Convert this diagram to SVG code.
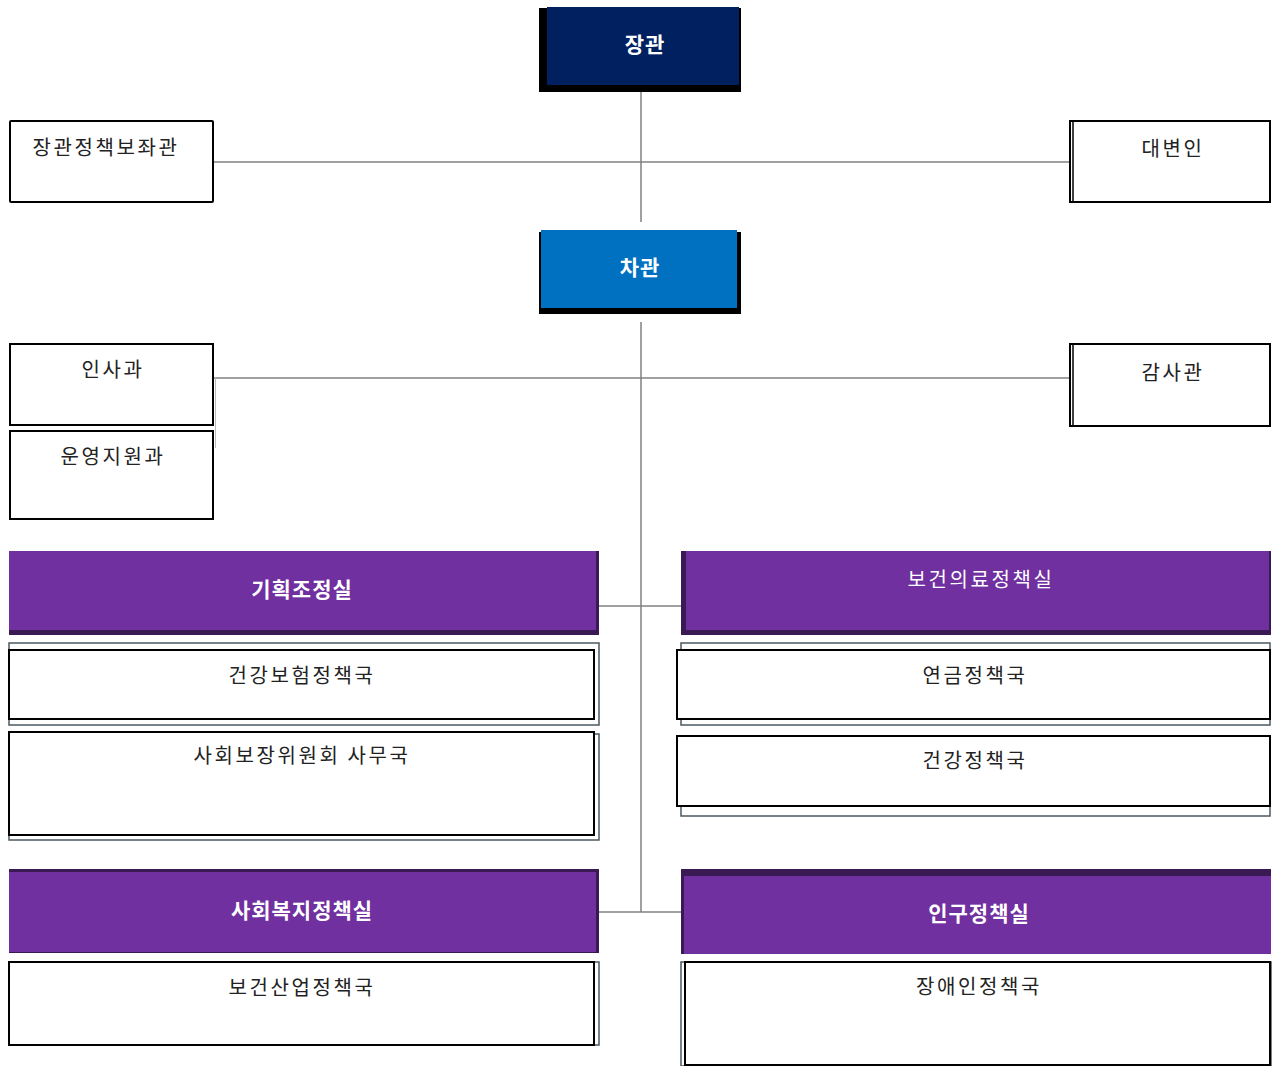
<svg xmlns="http://www.w3.org/2000/svg" width="1277" height="1066" viewBox="0 0 1277 1066">
<style>
.t{font-family:"Noto Sans CJK KR","Noto Sans",sans-serif;font-size:20px;text-anchor:middle;fill:#222;letter-spacing:2.6px}
.w{fill:#fff}
.b{font-weight:bold;font-size:21px;letter-spacing:1px}
.box{fill:#fff;stroke:#000;stroke-width:2}
.outer{fill:#fff;stroke:#4a5a60;stroke-width:1.5}
.pur{fill:#7030A0}
.purs{fill:#3a1a55}
.ln{stroke:#808080;stroke-width:1.5;fill:none}
</style>
<rect width="1277" height="1066" fill="#fff"/>
<g id="connectors">
<line class="ln" x1="641" y1="92" x2="641" y2="222"/>
<line class="ln" x1="213" y1="162" x2="1069" y2="162"/>
<line class="ln" x1="641" y1="322" x2="641" y2="912"/>
<line class="ln" x1="213" y1="378" x2="1069" y2="378"/>
<line x1="215.5" y1="378" x2="215.5" y2="448" stroke="#bbb" stroke-width="1"/>
<line class="ln" x1="599" y1="606" x2="681" y2="606"/>
<line class="ln" x1="599" y1="912" x2="681" y2="912"/>
</g>
<g id="minister">
<rect x="539" y="8" width="202" height="84" fill="#000"/>
<rect x="547" y="7" width="192" height="78" fill="#002060"/>
<text class="t w b" x="645" y="52">장관</text>
</g>
<g id="policy-aide">
<rect class="box" x="10" y="121" width="203" height="81" rx="1"/>
<text class="t" x="106" y="155">장관정책보좌관</text>
</g>
<g id="spokesperson">
<rect class="box" x="1070" y="121" width="200" height="81"/>
<line x1="1073" y1="121" x2="1073" y2="202" stroke="#000" stroke-width="1.5"/>
<text class="t" x="1173" y="156">대변인</text>
</g>
<g id="vice-minister">
<rect x="539" y="232" width="202" height="82" fill="#000"/>
<rect x="541" y="230" width="196" height="78" fill="#0070C0"/>
<text class="t w b" x="640" y="275">차관</text>
</g>
<g id="personnel">
<rect class="box" x="10" y="344" width="203" height="81"/>
<text class="t" x="113" y="377">인사과</text>
</g>
<g id="operations">
<rect class="box" x="10" y="431" width="203" height="88"/>
<text class="t" x="113" y="464">운영지원과</text>
</g>
<g id="audit">
<rect class="box" x="1070" y="344" width="200" height="82"/>
<line x1="1073" y1="344" x2="1073" y2="426" stroke="#000" stroke-width="1.5"/>
<text class="t" x="1173" y="380">감사관</text>
</g>
<g id="planning">
<rect class="purs" x="9" y="551" width="590" height="84"/>
<rect class="pur" x="9" y="551" width="587" height="79"/>
<text class="t w b" x="302" y="597">기획조정실</text>
</g>
<g id="health-medical">
<rect class="purs" x="681" y="551" width="590" height="84"/>
<rect class="pur" x="686" y="551" width="583" height="79"/>
<text class="t w" x="981" y="587">보건의료정책실</text>
</g>
<g id="health-insurance">
<rect class="outer" x="9" y="643" width="590" height="82"/>
<rect class="box" x="9" y="650" width="585" height="69"/>
<text class="t" x="302" y="683">건강보험정책국</text>
</g>
<g id="social-security">
<rect class="outer" x="9" y="734" width="590" height="106"/>
<rect class="box" x="9" y="732" width="585" height="103"/>
<text class="t" x="302" y="763">사회보장위원회 사무국</text>
</g>
<g id="pension">
<rect class="outer" x="681" y="643" width="589" height="82"/>
<rect class="box" x="677" y="650" width="593" height="69"/>
<text class="t" x="975" y="683">연금정책국</text>
</g>
<g id="health-policy">
<rect class="outer" x="681" y="738" width="589" height="78"/>
<rect class="box" x="677" y="736" width="593" height="70"/>
<text class="t" x="975" y="768">건강정책국</text>
</g>
<g id="social-welfare">
<rect class="purs" x="9" y="869" width="590" height="84"/>
<rect class="pur" x="9" y="872" width="587" height="80"/>
<text class="t w b" x="302" y="918">사회복지정책실</text>
</g>
<g id="population">
<rect class="purs" x="681" y="869" width="590" height="85"/>
<rect class="pur" x="684" y="876" width="587" height="78"/>
<text class="t w b" x="979" y="921">인구정책실</text>
</g>
<g id="health-industry">
<rect class="outer" x="9" y="962" width="590" height="83"/>
<rect class="box" x="9" y="962" width="585" height="83"/>
<text class="t" x="302" y="995">보건산업정책국</text>
</g>
<g id="disability">
<rect class="outer" x="681" y="962" width="590" height="104"/>
<rect class="box" x="685" y="962" width="585" height="103"/>
<text class="t" x="979" y="994">장애인정책국</text>
</g>
</svg>
